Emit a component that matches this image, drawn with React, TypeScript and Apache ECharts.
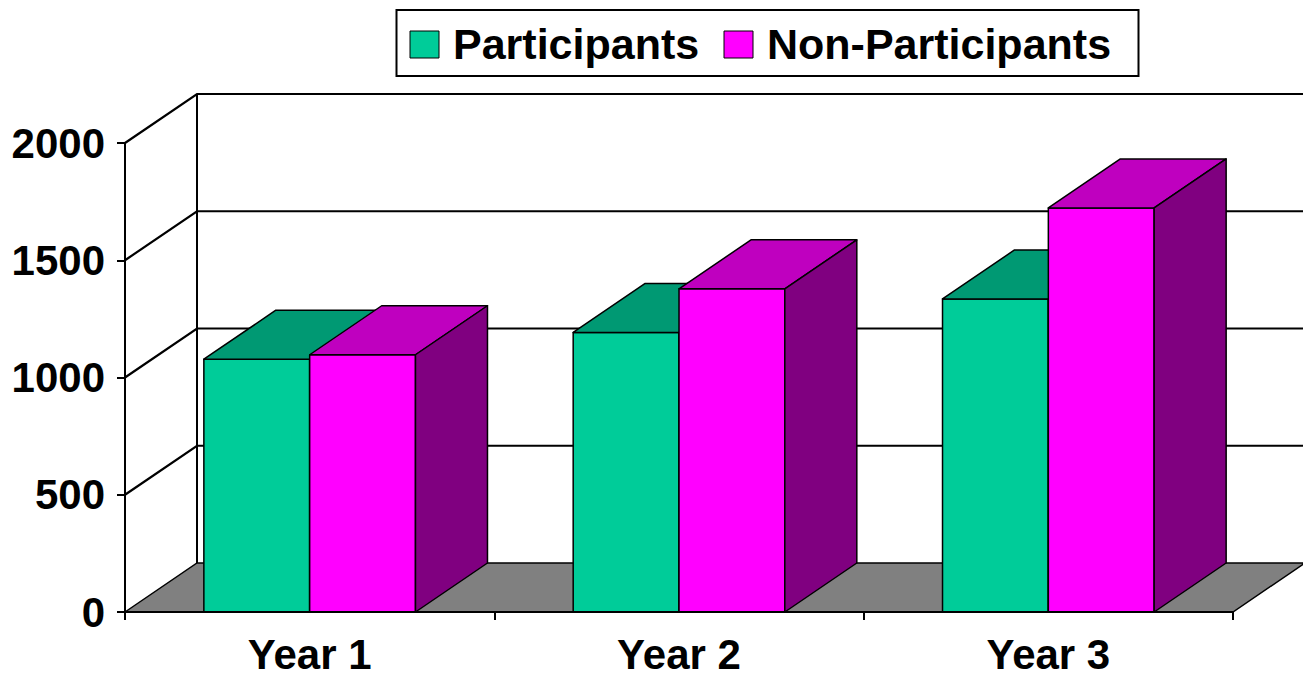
import React, { useEffect, useRef } from "react";
import * as echarts from "echarts";

const categories = ["Year 1", "Year 2", "Year 3"];
const participants = [1078, 1192, 1335];
const nonParticipants = [1097, 1378, 1723];
const seriesNames = ["Participants", "Non-Participants"];
const yTicks = [0, 500, 1000, 1500, 2000];

const DX = 72;
const DY = -49;
const BAR_RATIO = 0.2865;
const FONT = "'Liberation Sans', Arial, sans-serif";

const colorsP = { front: "#00CC99", top: "#009973", side: "#006650" };
const colorsN = { front: "#FF00FF", top: "#BF00BF", side: "#800080" };

function cubeRenderer(side: number, c: { front: string; top: string; side: string }) {
  return (params: any, api: any) => {
    const i = api.value(0);
    const v = api.value(1);
    const top = api.coord([i, v]);
    const base = api.coord([i, 0]);
    const cx = top[0];
    const yTop = top[1];
    const yBase = base[1];
    const bw = api.size([1, 0])[0] * BAR_RATIO;
    const x1 = side < 0 ? cx - bw : cx;
    const x2 = x1 + bw;
    const st = (fill: string) => ({ fill, stroke: "#000", lineWidth: 1.5, lineJoin: "round" });
    return {
      type: "group",
      children: [
        { type: "polygon", shape: { points: [[x1, yBase], [x2, yBase], [x2, yTop], [x1, yTop]] }, style: st(c.front) },
        { type: "polygon", shape: { points: [[x1, yTop], [x2, yTop], [x2 + DX, yTop + DY], [x1 + DX, yTop + DY]] }, style: st(c.top) },
        { type: "polygon", shape: { points: [[x2, yTop], [x2 + DX, yTop + DY], [x2 + DX, yBase + DY], [x2, yBase]] }, style: st(c.side) },
      ],
    };
  };
}

export default function App() {
  const ref = useRef<HTMLDivElement>(null);
  useEffect(() => {
    if (!ref.current) return;
    const chart = echarts.init(ref.current, undefined, { renderer: "svg" });
    const axisText = { fontFamily: FONT, fontWeight: "bold", fontSize: 42, color: "#000" };
    chart.setOption({
      animation: false,
      backgroundColor: "#fff",
      grid: { left: 125, right: 70, top: 143, bottom: 65, containLabel: false },
      xAxis: {
        type: "category",
        data: categories,
        z: 5,
        axisLine: { show: true, lineStyle: { color: "#000", width: 2 } },
        axisTick: { show: true, length: 8, lineStyle: { color: "#000", width: 2 } },
        axisLabel: { ...axisText, margin: 42, verticalAlign: "middle", lineHeight: 30 },
        splitLine: { show: false },
      },
      yAxis: {
        type: "value",
        min: 0,
        max: 2000,
        interval: 500,
        z: 5,
        axisLine: { show: true, lineStyle: { color: "#000", width: 2 } },
        axisTick: { show: true, length: 8, lineStyle: { color: "#000", width: 2 } },
        axisLabel: { ...axisText, margin: 20, formatter: (v: number) => String(v) },
        splitLine: { show: false },
      },
      series: [
        {
          type: "custom",
          name: "frame",
          z: 1,
          silent: true,
          data: [[0, yTicks[yTicks.length - 1]]],
          renderItem: (params: any, api: any) => {
            const cs = params.coordSys;
            const x0 = cs.x;
            const w = cs.width;
            const yb = api.coord([0, yTicks[0]])[1];
            const yt = api.coord([0, api.value(1)])[1];
            return {
              type: "group",
              children: [
                {
                  type: "polygon",
                  shape: { points: [[x0, yb], [x0 + DX, yb + DY], [x0 + w + DX, yb + DY], [x0 + w, yb]] },
                  style: { fill: "#808080", stroke: "#000", lineWidth: 1.5 },
                },
                {
                  type: "line",
                  shape: { x1: x0 + DX, y1: yt + DY, x2: x0 + DX, y2: yb + DY },
                  style: { stroke: "#000", lineWidth: 2 },
                },
              ],
            };
          },
        },
        {
          type: "custom",
          name: "gridlines",
          z: 1,
          silent: true,
          data: yTicks.filter((v) => v > 0).map((v) => [0, v]),
          renderItem: (params: any, api: any) => {
            const cs = params.coordSys;
            const x0 = cs.x;
            const w = cs.width;
            const y = api.coord([0, api.value(1)])[1];
            return {
              type: "polyline",
              shape: { points: [[x0, y], [x0 + DX, y + DY], [x0 + w + DX + 20, y + DY]] },
              style: { stroke: "#000", lineWidth: 2.2, fill: "none" },
            };
          },
        },
        {
          type: "custom",
          name: seriesNames[0],
          z: 2,
          data: participants.map((v, i) => [i, v]),
          itemStyle: { color: colorsP.front },
          renderItem: cubeRenderer(-1, colorsP),
        },
        {
          type: "custom",
          name: seriesNames[1],
          z: 2,
          data: nonParticipants.map((v, i) => [i, v]),
          itemStyle: { color: colorsN.front },
          renderItem: cubeRenderer(1, colorsN),
        },
      ],
      graphic: [
        {
          type: "rect",
          z: 10,
          shape: { x: 396.5, y: 10, width: 742, height: 66 },
          style: { fill: "#fff", stroke: "#000", lineWidth: 2 },
        },
        {
          type: "rect",
          z: 11,
          shape: { x: 410, y: 31, width: 29, height: 27 },
          style: { fill: colorsP.front, stroke: "#000", lineWidth: 1 },
        },
        {
          type: "text",
          z: 11,
          x: 453,
          y: 43.6,
          style: { text: seriesNames[0], fontFamily: FONT, fontWeight: "bold", fontSize: 43, fill: "#000", verticalAlign: "middle", align: "left" },
        },
        {
          type: "rect",
          z: 11,
          shape: { x: 724, y: 31, width: 29, height: 27 },
          style: { fill: colorsN.front, stroke: "#000", lineWidth: 1 },
        },
        {
          type: "text",
          z: 11,
          x: 767,
          y: 43.6,
          style: { text: seriesNames[1], fontFamily: FONT, fontWeight: "bold", fontSize: 43, fill: "#000", verticalAlign: "middle", align: "left" },
        },
      ],
    });
    return () => chart.dispose();
  }, []);
  return <div ref={ref} style={{ position: "absolute", left: 0, top: 0, width: 1303, height: 677 }} />;
}
